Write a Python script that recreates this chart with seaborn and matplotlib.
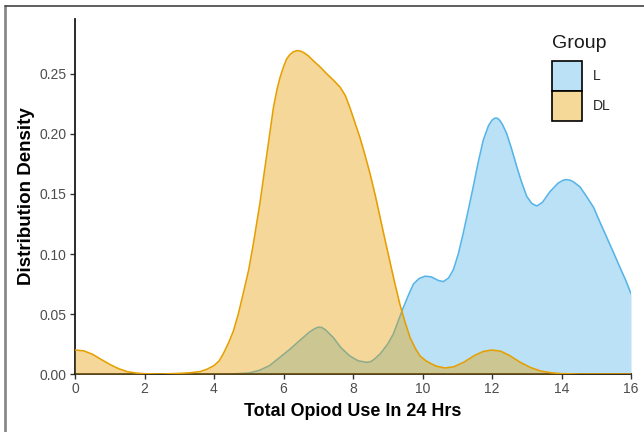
import numpy as np
import pandas as pd
import matplotlib
matplotlib.use("Agg")
import matplotlib.pyplot as plt
from matplotlib.patches import Patch
from matplotlib.lines import Line2D
import seaborn as sns

# Estimated density curves for each group (x = total opioid use, y = density)
dl_x = [0.0, 0.25, 0.5, 0.75, 1.0, 1.25, 1.5, 1.75, 2.0, 2.5, 3.0, 3.3, 3.6, 3.8,
        4.0, 4.15, 4.27, 4.42, 4.56, 4.7, 4.84, 5.0, 5.13, 5.32, 5.52, 5.71,
        5.82, 5.90, 6.0, 6.09, 6.18, 6.28, 6.4, 6.5, 6.6, 6.72, 6.86, 7.05,
        7.24, 7.45, 7.63, 7.78, 7.91, 8.05, 8.2, 8.35, 8.49, 8.64, 8.78, 8.92,
        9.06, 9.2, 9.35, 9.5, 9.64, 9.8, 9.93, 10.1, 10.22, 10.4, 10.65, 10.9,
        11.2, 11.5, 11.75, 12.0, 12.25, 12.5, 12.8, 13.1, 13.4, 13.7, 14.0,
        14.5, 16.0]
dl_y = [0.020, 0.0193, 0.0165, 0.0122, 0.008, 0.0045, 0.002, 0.0008, 0.0002,
        0.0, 0.0005, 0.001, 0.002, 0.004, 0.007, 0.011, 0.017, 0.026, 0.036,
        0.050, 0.067, 0.087, 0.108, 0.142, 0.183, 0.222, 0.238, 0.247, 0.256,
        0.2625, 0.266, 0.2685, 0.2695, 0.269, 0.2675, 0.265, 0.261, 0.256,
        0.2503, 0.2445, 0.239, 0.232, 0.222, 0.210, 0.197, 0.182, 0.167, 0.149,
        0.1305, 0.112, 0.094, 0.076, 0.058, 0.043, 0.0305, 0.021, 0.015, 0.011,
        0.009, 0.0065, 0.005, 0.006, 0.010, 0.0155, 0.0188, 0.020, 0.019,
        0.0155, 0.010, 0.0055, 0.0025, 0.001, 0.0003, 0.0, 0.0]

l_x = [4.5, 5.0, 5.3, 5.6, 5.9, 6.2, 6.47, 6.75, 6.9, 7.0, 7.1, 7.2, 7.43,
       7.65, 7.91, 8.15, 8.3, 8.39, 8.5, 8.6, 8.78, 9.0, 9.16, 9.3, 9.45, 9.6,
       9.74, 9.9, 10.07, 10.25, 10.45, 10.6, 10.75, 10.89, 11.03, 11.17,
       11.32, 11.46, 11.6, 11.75, 11.9, 12.0, 12.08, 12.15, 12.22, 12.3, 12.42,
       12.56, 12.71, 12.85, 13.0, 13.15, 13.29, 13.45, 13.67, 13.9, 14.05,
       14.15, 14.25, 14.35, 14.53, 14.72, 14.92, 15.1, 15.3, 15.5, 15.68,
       15.85, 16.0]
l_y = [0.0, 0.0008, 0.003, 0.007, 0.014, 0.021, 0.028, 0.035, 0.0378, 0.039,
       0.0388, 0.037, 0.0305, 0.022, 0.015, 0.011, 0.0102, 0.0097, 0.0102,
       0.012, 0.0167, 0.025, 0.0333, 0.044, 0.0555, 0.066, 0.075, 0.0795,
       0.0815, 0.081, 0.078, 0.077, 0.080, 0.087, 0.100, 0.117, 0.137, 0.156,
       0.176, 0.195, 0.207, 0.2115, 0.2132, 0.2132, 0.2115, 0.208, 0.2005,
       0.188, 0.173, 0.160, 0.148, 0.142, 0.140, 0.143, 0.152, 0.159, 0.1615,
       0.162, 0.1615, 0.160, 0.156, 0.148, 0.139, 0.127, 0.114, 0.101, 0.089,
       0.078, 0.067]

groups = ["L", "DL"]
x_ticks = [0, 2, 4, 6, 8, 10, 12, 14, 16]
y_ticks = [0.00, 0.05, 0.10, 0.15, 0.20, 0.25]

colors = {"L": "#56B4E9", "DL": "#E69F00"}
fill_alpha = 0.4

df = pd.concat([
    pd.DataFrame({"use": l_x, "density": l_y, "Group": "L"}),
    pd.DataFrame({"use": dl_x, "density": dl_y, "Group": "DL"}),
], ignore_index=True)

sns.set_theme(style="ticks")
plt.rcParams["font.family"] = ["Liberation Sans", "DejaVu Sans"]

fig = plt.figure(figsize=(6.44, 4.32), dpi=100)
ax = fig.add_axes([75 / 644, 58 / 432, 556 / 644, 355 / 432])

z = 1
for g in groups:
    sub = df[df["Group"] == g]
    ax.fill_between(sub["use"], 0, sub["density"], color=colors[g],
                    alpha=fill_alpha, linewidth=0, zorder=z)
    sns.lineplot(data=sub, x="use", y="density", color=colors[g], sort=False,
                 linewidth=1.15, ax=ax, zorder=z + 1, legend=False)
    z += 2

ax.set_xlim(0, 16)
ax.set_ylim(0, 355 / 1200)
ax.set_xticks(x_ticks)
ax.set_xticklabels([str(t) for t in x_ticks])
ax.set_yticks(y_ticks)
ax.set_yticklabels([f"{t:.2f}" for t in y_ticks])
ax.margins(0)

for side in ["top", "right"]:
    ax.spines[side].set_visible(False)
for side in ["left", "bottom"]:
    ax.spines[side].set_color("#1a1a1a")
    ax.spines[side].set_linewidth(1.3)
ax.tick_params(axis="both", length=3.5, width=1.0, color="#333333",
               labelcolor="#4d4d4d", labelsize=10, pad=2.5)

ax.set_xlabel("Total Opiod Use In 24 Hrs", fontsize=12.9, fontweight="bold",
              color="black", labelpad=5)
ax.set_ylabel("Distribution Density", fontsize=13.5, fontweight="bold",
              color="black", labelpad=3.5)

# Legend: keys are the fill colour as it appears over white
handles = []
for g in groups:
    r, gg, b = matplotlib.colors.to_rgb(colors[g])
    face = (fill_alpha * r + 1 - fill_alpha, fill_alpha * gg + 1 - fill_alpha,
            fill_alpha * b + 1 - fill_alpha)
    handles.append(Patch(facecolor=face, edgecolor="black", linewidth=1.2))
fig.legend(handles=handles, labels=groups, loc="upper left",
           bbox_to_anchor=(552 / 644, 1 - 61 / 432), frameon=False,
           fontsize=10, handlelength=2.15, handleheight=2.94, labelspacing=0,
           handletextpad=0.8, borderpad=0, borderaxespad=0)
fig.text(552 / 644, 1 - 48 / 432, "Group", fontsize=14, ha="left",
         va="baseline", color="#1a1a1a")

# Outer frame lines
fig.add_artist(Line2D([5 / 644, 5 / 644], [0, 1 - 6 / 432],
                      color="#8a8a8a", linewidth=2.0,
                      transform=fig.transFigure))
fig.add_artist(Line2D([5 / 644, 1], [1 - 6 / 432, 1 - 6 / 432],
                      color="#444444", linewidth=1.2,
                      transform=fig.transFigure))

fig.savefig("out.png", dpi=100)
